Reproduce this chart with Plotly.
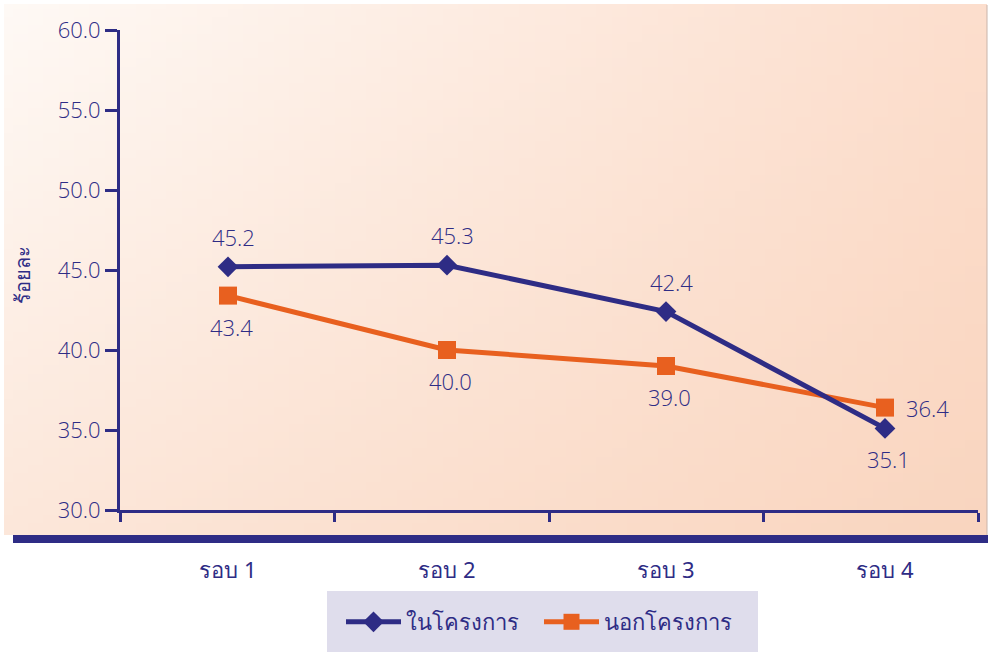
import base64
import struct
import zlib

import plotly.graph_objects as go

# ---- data ----------------------------------------------------------------
rounds = ["รอบ 1", "รอบ 2", "รอบ 3", "รอบ 4"]
in_project = [45.2, 45.3, 42.4, 35.1]
out_project = [43.4, 40.0, 39.0, 36.4]
series_names = ["ในโครงการ", "นอกโครงการ"]
y_title = "ร้อยละ"
y_ticks = [30.0, 35.0, 40.0, 45.0, 50.0, 55.0, 60.0]

# where each value label sits relative to its marker
in_label_side = ["above", "above", "above", "below"]
out_label_side = ["below", "below", "below", "right"]

# ---- style -----------------------------------------------------------------
W, H = 988, 652
NAVY = "#2e2c85"
ORANGE = "#e8601f"
LEGEND_BG = "#dfddec"
NUM_FONT = dict(family="Open Sans, Noto Sans, sans-serif", weight=300)
THAI_FONT = dict(family="Noto Sans, DejaVu Sans, sans-serif", weight=400)


def px_x(p):
    return p / W


def px_y(p):
    return 1 - p / H


def gradient_png(w, h, tl, tr, bl, br):
    """Small RGB PNG with a bilinear blend between four corner colours."""
    rows = []
    for j in range(h):
        v = j / (h - 1)
        row = bytearray([0])
        for i in range(w):
            u = i / (w - 1)
            for c in range(3):
                top = tl[c] * (1 - u) + tr[c] * u
                bot = bl[c] * (1 - u) + br[c] * u
                row.append(int(round(top * (1 - v) + bot * v)))
        rows.append(bytes(row))
    raw = b"".join(rows)

    def chunk(tag, data):
        return (struct.pack(">I", len(data)) + tag + data
                + struct.pack(">I", zlib.crc32(tag + data) & 0xFFFFFFFF))

    png = (b"\x89PNG\r\n\x1a\n"
           + chunk(b"IHDR", struct.pack(">IIBBBBB", w, h, 8, 2, 0, 0, 0))
           + chunk(b"IDAT", zlib.compress(raw))
           + chunk(b"IEND", b""))
    return "data:image/png;base64," + base64.b64encode(png).decode()


panel_img = gradient_png(64, 64,
                         (254, 249, 245), (252, 222, 205),
                         (252, 231, 218), (249, 213, 191))

xi = list(range(len(rounds)))

fig = go.Figure()

# orange series first so the navy line sits on top where they cross
fig.add_trace(go.Scatter(
    x=xi, y=out_project, name=series_names[1], mode="lines+markers",
    line=dict(color=ORANGE, width=5),
    marker=dict(symbol="square", size=18, color=ORANGE),
    legendrank=2, cliponaxis=False,
))
fig.add_trace(go.Scatter(
    x=xi, y=in_project, name=series_names[0], mode="lines+markers",
    line=dict(color=NAVY, width=5),
    marker=dict(symbol="diamond", size=16, color=NAVY),
    legendrank=1, cliponaxis=False,
))
# divider ticks along the category axis
fig.add_trace(go.Scatter(x=[], y=[], xaxis="x2", yaxis="y", showlegend=False))

# value labels
offsets = {
    "above": dict(xshift=5, yshift=30, xanchor="center", yanchor="middle"),
    "below": dict(xshift=3, yshift=-31, xanchor="center", yanchor="middle"),
    "right": dict(xshift=19, yshift=0, xanchor="left", yanchor="middle"),
}
annotations = []
for values, sides in ((in_project, in_label_side), (out_project, out_label_side)):
    for x, v, side in zip(xi, values, sides):
        annotations.append(dict(
            x=x, y=v, xref="x", yref="y", text=f"{v:.1f}", showarrow=False,
            font=dict(size=22, color=NAVY, **NUM_FONT),
            **offsets[side],
        ))

annotations.append(dict(
    text=y_title, textangle=-90, xref="paper", yref="paper",
    x=px_x(22), y=px_y(275), xanchor="center", yanchor="middle", showarrow=False,
    font=dict(size=20, color=NAVY, **THAI_FONT),
))

x_dom = [px_x(120), px_x(978)]
y_dom = [px_y(510), px_y(30)]
unit = (885 - 228) / (len(rounds) - 1)
x_range = [-(228 - 120) / unit, (len(rounds) - 1) + (978 - 885) / unit]

fig.update_layout(
    width=W, height=H,
    margin=dict(l=0, r=0, t=0, b=0, autoexpand=False),
    paper_bgcolor="white",
    plot_bgcolor="rgba(0,0,0,0)",
    font=dict(color=NAVY, size=22, **THAI_FONT),
    xaxis=dict(
        domain=x_dom, range=x_range, tickvals=xi, ticktext=rounds,
        ticks="", showline=False, showgrid=False, zeroline=False,
        tickfont=dict(size=22, color=NAVY, **THAI_FONT),
        ticklabelstandoff=45,
    ),
    xaxis2=dict(
        overlaying="x", anchor="y", side="bottom", range=[0, 4],
        tickvals=[0, 1, 2, 3, 4], showticklabels=False,
        ticks="outside", ticklen=9, tickwidth=3, tickcolor=NAVY,
        showline=True, linecolor=NAVY, linewidth=3,
        showgrid=False, zeroline=False,
    ),
    yaxis=dict(
        domain=y_dom, range=[30, 60], tickvals=y_ticks, tickformat=".1f",
        ticks="outside", ticklen=12, tickwidth=3, tickcolor=NAVY,
        showline=True, linecolor=NAVY, linewidth=3,
        showgrid=False, zeroline=False,
        tickfont=dict(size=22, color=NAVY, **NUM_FONT),
    ),
    showlegend=True,
    legend=dict(
        orientation="h", x=px_x(341), y=px_y(622),
        xanchor="left", yanchor="middle",
        bgcolor="rgba(0,0,0,0)",
        font=dict(size=22, color=NAVY, **THAI_FONT),
        itemwidth=55, itemsizing="trace", entrywidth=128,
    ),
    images=[dict(
        source=panel_img, xref="paper", yref="paper",
        x=px_x(4), y=px_y(4), sizex=px_x(987) - px_x(4), sizey=px_y(4) - px_y(535),
        xanchor="left", yanchor="top", sizing="stretch", layer="below",
    )],
    shapes=[
        # navy baseline bar under the panel
        dict(type="rect", xref="paper", yref="paper",
             x0=px_x(13), x1=1, y0=px_y(543), y1=px_y(535),
             fillcolor=NAVY, line=dict(width=0), layer="below"),
        # legend box
        dict(type="rect", xref="paper", yref="paper",
             x0=px_x(327), x1=px_x(758), y0=0, y1=px_y(591),
             fillcolor=LEGEND_BG, line=dict(width=0), layer="below"),
        # thin edge on the right of the panel
        dict(type="line", xref="paper", yref="paper",
             x0=px_x(987), x1=px_x(987), y0=px_y(535), y1=px_y(5),
             line=dict(color="#c9b4aa", width=1), layer="below"),
    ],
    annotations=annotations,
)

fig.write_html("out.html")
